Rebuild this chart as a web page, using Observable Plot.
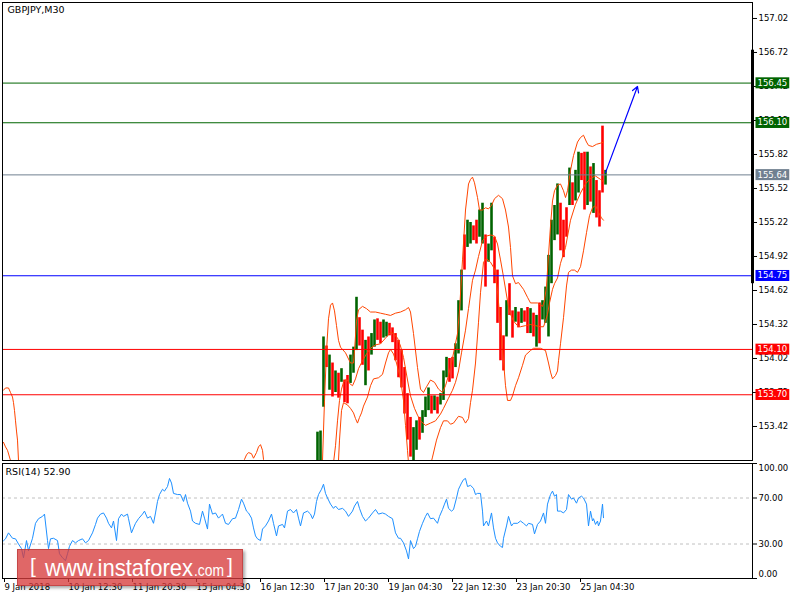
<!DOCTYPE html>
<html><head><meta charset="utf-8">
<script src="https://cdn.jsdelivr.net/npm/d3@7"></script>
<script src="https://cdn.jsdelivr.net/npm/@observablehq/plot@0.6"></script>
<style>
body{margin:0;background:#fff;}
#wrap{position:relative;width:800px;height:600px;overflow:hidden;background:#fff;}
#main{position:absolute;left:0;top:0;}
#rsi{position:absolute;left:0;top:462px;}
#wm{position:absolute;left:17px;top:549px;width:226px;height:37px;background:rgba(215,60,60,0.78);
 box-shadow:2px 2px 3px rgba(0,0,0,0.35);border:1px solid rgba(170,40,40,0.5);box-sizing:border-box;}
#wm svg{position:absolute;left:0;top:0;}
</style></head>
<body><div id="wrap"><div id="main"></div><div id="rsi"></div>
<div id="wm"><svg width="226" height="37" font-family="Liberation Sans" fill="#fff">
<text x="12" y="23" font-size="21">[</text>
<text x="27" y="26" font-size="24" textLength="148" lengthAdjust="spacingAndGlyphs">www.instaforex</text>
<text x="176" y="26" font-size="17" textLength="30" lengthAdjust="spacingAndGlyphs">.com</text>
<text x="209" y="23" font-size="21">]</text>
</svg></div></div>
<script>
// ---------- data ----------
const symbolTitle = "GBPJPY,M30";
const rsiTitle = "RSI(14) 52.90";
const xDomain = [-1, 749];            // bar index (M30 bars)
const priceDomain = [153.12, 157.161];
const priceTicks = [157.02,156.72,156.42,156.12,155.82,155.52,155.22,154.92,154.62,154.32,154.02,153.72,153.42];
const dateTickBars = [0,64,128,192,256,320,384,448,512,576];
const dateLabels = ["9 Jan 2018","10 Jan 12:30","11 Jan 20:30","15 Jan 04:30","16 Jan 12:30","17 Jan 20:30","19 Jan 04:30","22 Jan 12:30","23 Jan 20:30","25 Jan 04:30"];

const levelValues = [156.45, 156.10, 155.64, 154.75, 154.10, 153.70];
const levelColors = ["#006400", "#006400", "#708090", "#0000ff", "#ff0000", "#ff0000"];

// grouped candles (every 3 bars, starting at bar 314)
const candleHigh = [
153.37,153.38,154.21,154.13,154.05,153.98,153.91,153.89,153.93,153.83,
153.87,154.05,154.12,154.56,154.38,154.27,154.18,154.21,154.24,154.36,
154.37,154.34,154.36,154.34,154.33,154.29,154.24,154.18,154.09,153.94,
153.71,153.50,153.41,153.47,153.50,153.56,153.68,153.76,153.69,153.69,
153.68,153.71,153.91,154.03,154.02,154.03,154.15,154.53,154.80,155.11,
155.24,155.22,155.19,155.24,155.33,155.39,155.11,155.03,155.39,155.09,
154.80,154.47,154.22,154.53,154.68,154.44,154.47,154.43,154.46,154.44,
154.47,154.46,154.42,154.40,154.51,154.53,154.65,154.93,155.24,155.37,
155.56,155.39,155.24,155.35,155.70,155.57,155.68,155.84,155.83,155.84,
155.84,155.71,155.74,155.59,155.50,156.07,155.68];
const candleLow = [
152.95,152.95,153.59,153.94,153.74,153.68,153.72,153.67,153.81,153.63,
153.62,153.80,153.89,154.09,154.13,153.96,153.78,153.91,154.05,154.12,
154.18,154.15,154.20,154.21,154.22,154.16,154.00,153.85,153.76,153.53,
153.30,153.15,153.10,153.21,153.30,153.36,153.50,153.56,153.53,153.56,
153.53,153.61,153.65,153.85,153.81,153.84,153.94,154.06,154.44,154.80,
155.00,155.03,155.06,155.03,155.09,155.03,154.65,154.87,154.97,154.68,
154.33,154.00,153.91,154.21,154.40,154.20,154.34,154.29,154.33,154.34,
154.24,154.24,154.21,154.12,154.15,154.36,154.33,154.21,154.68,155.06,
155.11,154.97,154.91,155.09,155.37,155.37,155.41,155.48,155.59,155.33,
155.37,155.40,155.30,155.26,155.18,155.48,155.55];
const candleDir = "uuudududud"+"duuudduduu"+"dduudddddd"+"dduuduuudu"+"duuudduuud"+
                  "uudduuduud"+"ddduddudud"+"dududuuuuu"+"uddduduudd"+"ududddu";

// Bollinger bands [bar, price]; null breaks the line
const upperBand = [
[0,153.74],[2,153.76],[5,153.76],[7,153.72],[9,153.68],[10,153.63],[11,153.56],[12,153.47],[13,153.38],[14,153.30],[15,153.12],[16,152.99],[17,null],
[239,153.03],[241,153.13],[243,153.17],[245,153.19],[248,153.18],[250,153.14],[253,153.19],[255,153.24],[257,153.26],[259,153.21],[260,153.13],[261,153.03],[262,null],
[317,152.94],[319,153.12],[321,153.65],[323,154.09],[325,154.37],[327,154.49],[329,154.51],[331,154.44],[333,154.31],[335,154.18],
[337,154.12],[342,154.07],[347,153.98],[350,153.98],[351,154.09],[353,154.35],[355,154.45],[359,154.48],[363,154.46],[367,154.43],
[372,154.43],[377,154.42],[382,154.41],[387,154.40],[392,154.42],[397,154.43],[402,154.45],[405,154.47],[407,154.43],[410,154.24],
[414,153.94],[417,153.75],[420,153.72],[423,153.77],[427,153.83],[431,153.81],[435,153.75],[439,153.72],[442,153.78],[445,153.87],
[448,153.98],[451,154.11],[454,154.24],[456,154.44],[459,154.89],[462,155.33],[465,155.56],[467,155.60],[469,155.62],[471,155.57],
[474,155.44],[476,155.33],[479,155.33],[482,155.35],[485,155.34],[488,155.37],[491,155.43],[495,155.46],[499,155.43],[502,155.33],
[505,155.18],[507,155.00],[509,154.75],[512,154.68],[515,154.69],[520,154.63],[524,154.56],[527,154.51],[534,154.51],[539,154.48],
[541,154.53],[543,154.66],[545,154.93],[547,155.19],[549,155.41],[551,155.50],[554,155.55],[557,155.56],[560,155.50],[562,155.44],
[564,155.50],[567,155.68],[570,155.81],[574,155.93],[577,155.97],[580,155.99],[583,155.93],[585,155.90],[589,155.89],[593,155.91],
[597,155.92],[600,155.93]];
const middleBand = [
[0,153.28],[2,153.24],[4,153.21],[7,153.12],[9,153.03],[10,null],
[327,152.94],[330,153.10],[332,153.25],[334,153.47],[336,153.65],[338,153.75],[340,153.81],[343,153.84],[346,153.80],[349,153.78],
[352,153.84],[355,153.93],[359,154.00],[363,154.06],[367,154.11],[372,154.14],[377,154.15],[382,154.20],[387,154.25],[390,154.24],
[394,154.20],[397,154.13],[400,154.03],[404,153.83],[407,153.69],[411,153.58],[414,153.52],[417,153.47],[422,153.43],[427,153.45],
[432,153.47],[437,153.53],[440,153.58],[445,153.67],[449,153.74],[452,153.81],[455,153.91],[458,154.07],[462,154.27],[465,154.46],
[469,154.71],[472,154.80],[475,154.92],[479,155.06],[483,155.10],[487,155.11],[491,155.10],[494,155.03],[497,154.89],[500,154.74],
[503,154.58],[506,154.43],[510,154.35],[514,154.31],[517,154.30],[522,154.31],[527,154.32],[532,154.31],[537,154.30],[540,154.30],
[542,154.35],[544,154.41],[546,154.51],[549,154.63],[551,154.68],[554,154.73],[557,154.86],[562,155.00],[567,155.24],[572,155.38],
[577,155.48],[582,155.56],[587,155.61],[592,155.63],[597,155.60],[600,155.58]];
const lowerBand = [
[334,152.94],[336,153.30],[338,153.56],[340,153.63],[344,153.61],[347,153.58],[350,153.54],[352,153.49],[354,153.45],[356,153.50],
[358,153.54],[360,153.60],[364,153.68],[367,153.78],[370,153.84],[375,153.85],[379,153.88],[382,153.98],[385,154.07],[387,154.10],
[390,154.06],[393,153.98],[397,153.84],[400,153.65],[402,153.43],[404,153.21],[406,152.99],[407,null],
[423,153.03],[427,153.08],[429,153.15],[433,153.30],[437,153.41],[440,153.47],[444,153.47],[447,153.44],[450,153.45],[455,153.51],
[459,153.50],[462,153.45],[465,153.49],[467,153.63],[469,153.74],[472,153.98],[475,154.34],[477,154.60],[480,154.87],[483,154.90],
[487,154.87],[491,154.81],[494,154.62],[497,154.31],[500,154.00],[502,153.78],[504,153.65],[507,153.65],[509,153.69],[512,153.78],
[515,153.85],[519,153.96],[522,154.05],[527,154.09],[530,154.11],[537,154.11],[542,154.09],[545,153.98],[547,153.90],[549,153.84],
[552,153.87],[554,153.91],[555,154.00],[557,154.15],[560,154.38],[563,154.66],[565,154.78],[568,154.80],[571,154.80],[574,154.78],
[577,154.83],[580,154.97],[583,155.13],[586,155.28],[589,155.35],[592,155.37],[595,155.31],[598,155.26],[600,155.24]];

// RSI(14) [bar, value]
const rsiSeries = [
[0,32.8],[2,34.5],[5,39.7],[9,35],[12,34.5],[15,30],[18,26],[20,18],[23,33],[25,24],[29,35],[32,48],[35,52],[39,54],[41,56],[44,33],[45,26],[47,34.5],[50,35],[54,33],
[56,21.5],[59,18],[62,15.5],[64,21.5],[66,28],[69,33],[72,31],[75,33],[79,34.5],[82,31],[85,33],[89,39.7],[92,47],[94,52.5],[97,56],[100,57],[103,52.5],[105,48],[108,44],[110,50],
[113,33],[115,52],[118,56],[120,54],[124,56],[125,52],[128,39.7],[130,44],[132,48],[135,52],[139,56],[141,58.6],[144,52.5],[147,54],[150,48],[152,57],[154,67],[156,73],[159,77.6],[161,76],
[164,80],[166,87],[168,83],[170,74],[174,73],[177,73],[180,67],[182,73],[184,65.5],[187,58.6],[189,50],[192,48],[196,47],[199,58.6],[201,52.5],[204,43],[206,64.7],[209,56],[212,57],[215,52.5],
[219,56],[222,48],[225,47],[229,52],[232,52.5],[235,60],[238,69],[240,65.5],[243,58.6],[245,57],[248,52.5],[250,44],[252,37],[254,34.5],[257,33],[259,43],[262,45.7],[265,50],[268,56],[270,48],
[273,37],[275,45.7],[279,47],[281,44],[284,58.6],[287,60],[290,57],[293,60],[295,52.5],[297,45.7],[300,57],[304,58.6],[307,56],[309,52],[311,56],[313,67],[315,73],[318,77.6],[320,82],[322,74],
[324,70],[327,64.7],[330,61],[332,63],[335,60],[339,61],[342,58.6],[345,54],[349,58.6],[351,63],[354,67],[356,61],[359,54],[362,50],[365,52.5],[369,57],[372,60],[375,56],[379,57],[382,56],
[385,54],[389,52],[392,39.7],[395,35],[397,35],[400,31],[403,24],[405,17],[407,33],[410,26],[412,28],[414,34.5],[416,41],[419,48],[422,54],[424,57],[427,52],[430,52.5],[434,48],[436,54],
[439,60],[441,64.7],[443,69],[445,61],[448,58.6],[450,60],[453,70],[455,77.6],[458,83],[460,86],[462,87],[464,80],[467,81],[470,78.4],[472,73],[474,74],[477,74],[479,58.6],[480,45.7],[483,50],
[485,45.7],[488,57],[490,44],[492,35],[494,31],[497,28],[499,27],[500,35],[503,45.7],[505,54],[508,45.7],[510,48],[514,48],[517,50],[520,48],[523,45.7],[525,48],[529,47],[531,38.8],[534,47],
[537,50],[540,57],[542,48],[544,64.7],[547,73],[549,76],[551,71.6],[553,73],[554,58.6],[557,58.6],[560,57],[563,60],[565,73],[568,69],[570,70],[573,65.5],[575,70],[578,71.6],[580,70],[583,64.7],
[585,45.7],[587,58.6],[589,50],[590,52],[592,47],[594,50],[595,45.7],[597,50],[599,64.7],[600,52.9]];
const rsiLevels = [70, 30];
const rsiTicks = [100, 70, 30, 0];

// forecast arrow and price-scale range marker
const arrowData = [{b1: 602, p1: 155.66, b2: 634, p2: 156.42}];
const scaleMarker = [{b: 749, p1: 156.74, p2: 154.68}];

// ---------- build ----------
const candles = d3.range(314, 603, 3).map((b, i) => ({b, hi: candleHigh[i], lo: candleLow[i], up: candleDir[i] === "u"}));
const levels = levelValues.map((v, i) => ({v, c: levelColors[i]}));
const levelText = levelValues.map(v => v.toFixed(2));
const labelByBar = new Map(dateTickBars.map((b, i) => [b, dateLabels[i]]));
const font = {fontFamily: "DejaVu Sans", fontSize: "8.5px", color: "black", background: "white"};

const main = Plot.plot({
  width: 800, height: 462,
  marginLeft: 2, marginRight: 48, marginTop: 2, marginBottom: 2,
  x: {domain: xDomain, axis: null},
  y: {domain: priceDomain, axis: null},
  color: {type: "identity"},
  style: font,
  marks: [
    Plot.ruleX(candles.filter(d => d.up), {x: "b", y1: "lo", y2: "hi", stroke: "#006400", strokeWidth: 2.6, clip: true}),
    Plot.ruleX(candles.filter(d => !d.up), {x: "b", y1: "lo", y2: "hi", stroke: "#ff0000", strokeWidth: 2.6, clip: true}),
    Plot.line(upperBand, {x: d => d[0], y: d => d[1], stroke: "#ff4500", strokeWidth: 1, clip: true}),
    Plot.line(middleBand, {x: d => d[0], y: d => d[1], stroke: "#ff4500", strokeWidth: 1, clip: true}),
    Plot.line(lowerBand, {x: d => d[0], y: d => d[1], stroke: "#ff4500", strokeWidth: 1, clip: true}),
    Plot.ruleY(levels, {y: "v", stroke: "c", strokeWidth: 1}),
    Plot.arrow(arrowData, {x1: "b1", y1: "p1", x2: "b2", y2: "p2", stroke: "#0000ff", strokeWidth: 1.2, headLength: 8}),
    Plot.frame({stroke: "black"}),
    Plot.ruleX(scaleMarker, {x: "b", y1: "p1", y2: "p2", stroke: "black", strokeWidth: 3}),
    Plot.axisY({ticks: priceTicks, anchor: "right", tickSize: 4, tickPadding: 2, tickFormat: d => d.toFixed(2)}),
    Plot.text(levels, {y: "v", text: d => d.v.toFixed(2), frameAnchor: "right", dx: 5, textAnchor: "start", fill: "white"}),
    Plot.text([symbolTitle], {text: d => d, frameAnchor: "top-left", dx: 5, dy: 4, lineAnchor: "top", textAnchor: "start", fontSize: 9.5})
  ]
});
document.getElementById("main").appendChild(main);

// colored boxes behind level labels
main.querySelectorAll("text").forEach(function(el) {
  const i = levelText.indexOf(el.textContent.trim());
  if (i < 0) return;
  const bb = el.getBBox();
  const r = document.createElementNS("http://www.w3.org/2000/svg", "rect");
  r.setAttribute("x", bb.x - 2); r.setAttribute("y", bb.y - 0.5);
  r.setAttribute("width", bb.width + 4); r.setAttribute("height", bb.height + 1);
  r.setAttribute("fill", levelColors[i]);
  const t = el.getAttribute("transform");
  if (t) r.setAttribute("transform", t);
  el.parentNode.insertBefore(r, el);
});

const rsi = Plot.plot({
  width: 800, height: 138,
  marginLeft: 2, marginRight: 48, marginTop: 1, marginBottom: 22,
  x: {domain: xDomain, axis: null},
  y: {domain: [0, 100], axis: null},
  style: font,
  marks: [
    Plot.ruleY(rsiLevels, {stroke: "#c0c0c0", strokeDasharray: "3,3"}),
    Plot.line(rsiSeries, {x: d => d[0], y: d => d[1], stroke: "#1e90ff", strokeWidth: 1, clip: true}),
    Plot.frame({stroke: "black"}),
    Plot.axisY({ticks: rsiTicks, anchor: "right", tickSize: 4, tickFormat: () => ""}),
    Plot.text(rsiTicks.filter(v => v === 70 || v === 30), {y: d => d, text: d => d.toFixed(2), frameAnchor: "right", dx: 6, textAnchor: "start"}),
    Plot.text(rsiTicks.filter(v => v === 100), {y: d => d, text: d => d.toFixed(2), frameAnchor: "right", dx: 6, dy: 5, textAnchor: "start"}),
    Plot.text(rsiTicks.filter(v => v === 0), {y: d => d, text: d => d.toFixed(2), frameAnchor: "right", dx: 6, dy: -4, textAnchor: "start"}),
    Plot.axisX({ticks: dateTickBars, anchor: "bottom", tickSize: 4, tickPadding: 1, textAnchor: "start", dx: 1, tickFormat: d => labelByBar.get(d)}),
    Plot.text([rsiTitle], {text: d => d, frameAnchor: "top-left", dx: 3, dy: 5, lineAnchor: "top", textAnchor: "start", fontSize: 9.5})
  ]
});
document.getElementById("rsi").appendChild(rsi);
</script>
</body></html>
